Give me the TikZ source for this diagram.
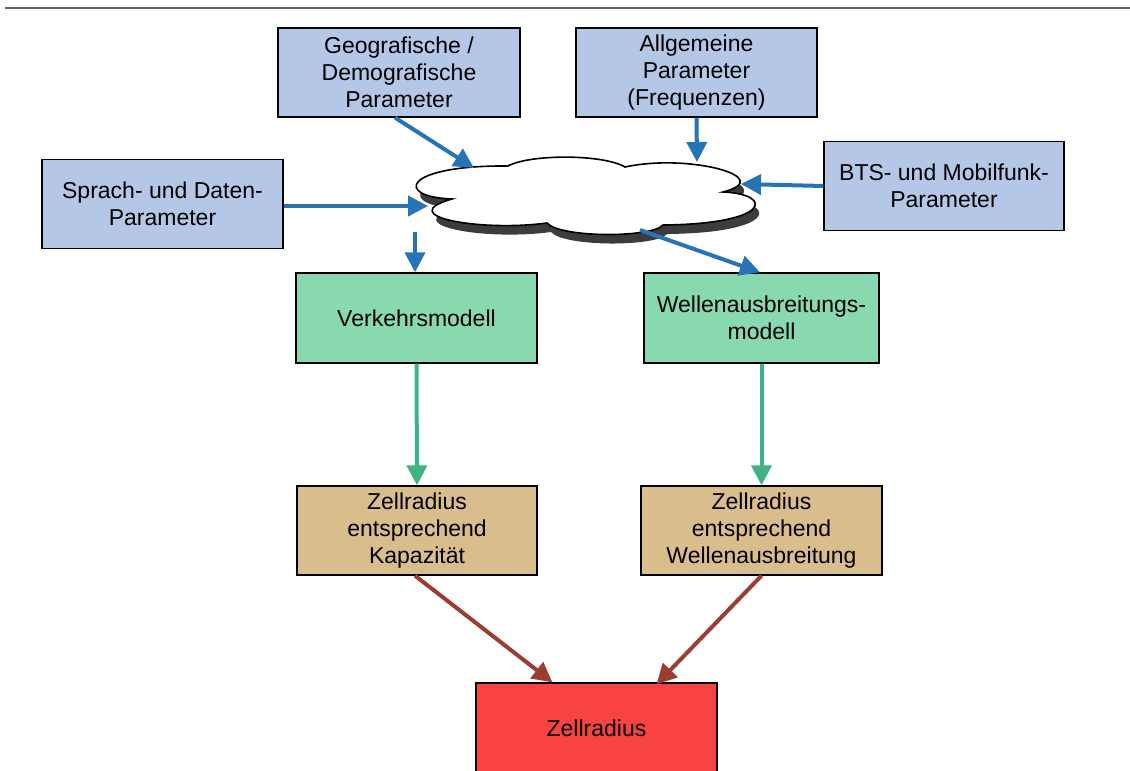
\documentclass[tikz,border=0pt]{standalone}
\usepackage{fontspec}
\setmainfont{Liberation Sans}
\usetikzlibrary{arrows.meta}
\definecolor{boxblue}{RGB}{180,199,231}
\definecolor{boxgreen}{RGB}{136,216,176}
\definecolor{boxtan}{RGB}{217,189,140}
\definecolor{boxred}{RGB}{249,67,67}
\definecolor{arrblue}{RGB}{38,116,182}
\definecolor{arrgreen}{RGB}{62,180,132}
\definecolor{arrred}{RGB}{158,60,52}
\definecolor{shadowgray}{RGB}{60,60,60}
\begin{document}
\begin{tikzpicture}[x=1pt,y=-1pt,
  every node/.style={font=\fontsize{23pt}{27pt}\selectfont},
  box/.style={draw=black,line width=1.3pt,align=center,inner sep=0pt,minimum height=89pt,minimum width=241pt},
  bluebox/.style={box,fill=boxblue},
  greenbox/.style={box,fill=boxgreen},
  tanbox/.style={box,fill=boxtan},
  redbox/.style={box,fill=boxred},
  arr/.style={line width=4pt,-{Triangle[length=20pt,width=20pt]}},
  barr/.style={arr,draw=arrblue,fill=arrblue},
  garr/.style={arr,draw=arrgreen,fill=arrgreen},
  rarr/.style={arr,draw=arrred,fill=arrred}]
\useasboundingbox (0,0) rectangle (1130,771);
\clip (0,0) rectangle (1130,771);
% top rule
\draw[line width=2pt,draw={rgb,255:red,100;green,100;blue,100}] (5,8) -- (1130,8);
% cloud
\def\cloudpath{(452,199)
  .. controls (394,197) and (402,165) .. (508,166)
  .. controls (530,154) and (603,154) .. (625,167)
  .. controls (690,153) and (778,178) .. (723,192)
  .. controls (774,194) and (772,224) .. (663,225)
  .. controls (652,238) and (560,238) .. (547,223)
  .. controls (480,232) and (392,216) .. (452,199) -- cycle}
\fill[shadowgray,shift={(4pt,-9pt)}] \cloudpath;
\draw[fill=white,line width=1.6pt] \cloudpath;
\coordinate (cgeo) at (474,168);
\coordinate (callg) at (697,162);
\coordinate (cbts) at (741,184);
\coordinate (csprach) at (428,206);
\coordinate (cbot1) at (415,232);
\coordinate (cbot2) at (640,230);
% nodes
\node[bluebox,minimum width=242pt] (geo) at (399,72.5) {Geografische /\\Demografische\\Parameter};
\node[bluebox] (allg) at (696.5,72.5) {Allgemeine\\Parameter\\(Frequenzen)};
\node[bluebox] (sprach) at (162.5,204) {Sprach- und Daten-\\Parameter};
\node[bluebox,minimum width=240pt] (bts) at (944,186) {BTS- und Mobilfunk-\\Parameter};
\node[greenbox,minimum height=90pt] (verk) at (416.5,318) {Verkehrsmodell};
\node[greenbox,minimum width=235pt,minimum height=90pt] (well) at (761.5,318) {Wellenausbreitungs-\\modell};
\node[tanbox,minimum width=240pt] (kap) at (417,530.5) {Zellradius\\entsprechend\\Kapazität};
\node[tanbox] (wr) at (761.5,530.5) {Zellradius\\entsprechend\\Wellenausbreitung};
\node[redbox,minimum height=90pt] (zell) at (596.5,728) {Zellradius};
% connectors
\draw[barr] ([xshift=-4pt]geo.south) -- (cgeo);
\draw[barr] (allg.south) -- (callg);
\draw[barr] (bts.west) -- (cbts);
\draw[barr] ([yshift=-2pt]sprach.east) -- (csprach);
\draw[barr] (cbot1) -- ([xshift=-1.5pt]verk.north);
\draw[barr] (cbot2) -- ([xshift=-1.5pt]well.north);
\draw[garr] (verk.south) -- (kap.north);
\draw[garr] (well.south) -- (wr.north);
\draw[rarr] ([xshift=-2pt]kap.south) -- ([xshift=-44pt]zell.north);
\draw[rarr] (wr.south) -- ([xshift=60pt,yshift=-2pt]zell.north);
\end{tikzpicture}
\end{document}
